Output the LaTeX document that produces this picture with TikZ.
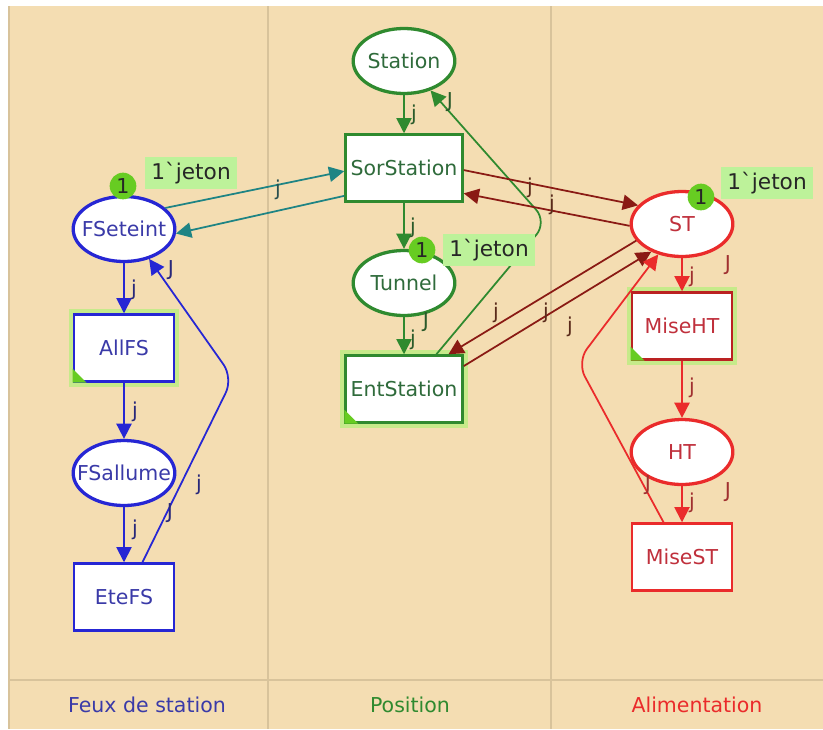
\documentclass[tikz,border=0pt]{standalone}
\usepackage{fontspec}
\setmainfont{DejaVu Sans}
\usetikzlibrary{positioning,arrows.meta,shapes.geometric,calc}
\definecolor{bgbeige}{HTML}{F4DDB2}
\definecolor{sepline}{HTML}{D8C39B}
\definecolor{fsblue}{HTML}{2626D4}
\definecolor{fstext}{HTML}{3A3AA8}
\definecolor{fsinsc}{HTML}{28287A}
\definecolor{posgreen}{HTML}{2F8A2F}
\definecolor{postext}{HTML}{2F6B3B}
\definecolor{posinsc}{HTML}{2A5A2A}
\definecolor{alimred}{HTML}{EA2B2B}
\definecolor{alimtext}{HTML}{C0303C}
\definecolor{aliminsc}{HTML}{A03030}
\definecolor{arcteal}{HTML}{1E8484}
\definecolor{arcbrown}{HTML}{8A1A14}
\definecolor{browninsc}{HTML}{5A2A1A}
\definecolor{tealinsc}{HTML}{2A5050}
\definecolor{tokgreen}{HTML}{67CC22}
\definecolor{markfill}{HTML}{BDF29A}
\definecolor{glow}{HTML}{C6EA8A}
\newcommand\nodefont{\fontsize{17.5}{20}\selectfont}
\newcommand\markfont{\fontsize{18.5}{20}\selectfont}
\tikzset{
  place/.style   = {ellipse, draw, line width=2.8pt, fill=white, minimum width=3.05cm,
                    minimum height=1.95cm, inner sep=0pt, font=\nodefont,
                    execute at begin node={\hbox to 0pt\bgroup\hss},
                    execute at end node={\hss\egroup}},
  trans/.style   = {rectangle, draw, line width=2.4pt, fill=white, minimum width=3.0cm,
                    minimum height=2.0cm, inner sep=0pt, font=\nodefont},
  wide/.style    = {minimum width=3.5cm},
  enabled/.style = {preaction={draw=glow, line width=9pt}},
  token/.style   = {circle, fill=tokgreen, minimum size=0.8cm, inner sep=0pt,
                    font=\nodefont, text=black!85},
  marking/.style = {rectangle, fill=markfill, minimum width=2.75cm, minimum height=0.95cm,
                    inner sep=0pt, font=\markfont, text=black!85},
  arc/.style     = {line width=1.5pt, -{Triangle[length=13pt, width=13pt]}},
  insc/.style    = {font=\nodefont, inner sep=0pt},
  corner/.style  = {fill=tokgreen},
}
\begin{document}
\begin{tikzpicture}[x=0.03cm, y=-0.03cm]
  \useasboundingbox (0,0) rectangle (823,729);
  \fill[white] (0,0) rectangle (823,729);
  \fill[bgbeige] (8,6) rectangle (823,729);
  \draw[sepline, line width=1.2pt] (9,6) -- (9,729);
  \draw[sepline, line width=2.5pt] (268,6) -- (268,729);
  \draw[sepline, line width=2.5pt] (551,6) -- (551,729);
  \draw[sepline, line width=2.5pt] (8,680) -- (823,680);

  % Feux de station
  \node[place, draw=fsblue, text=fstext] (FSeteint) at (124,229) {FSeteint};
  \node[trans, enabled, draw=fsblue, text=fstext] (AllFS) at (124,348) {AllFS};
  \node[place, draw=fsblue, text=fstext] (FSallume) at (124,473) {FSallume};
  \node[trans, draw=fsblue, text=fstext] (EteFS) at (124,597) {EteFS};

  % Position
  \node[place, draw=posgreen, text=postext] (Station) at (404,61) {Station};
  \node[trans, wide, draw=posgreen, text=postext] (SorStation) at (404,168) {SorStation};
  \node[place, draw=posgreen, text=postext] (Tunnel) at (404,283) {Tunnel};
  \node[trans, wide, enabled, draw=posgreen, text=postext] (EntStation) at (404,389) {EntStation};

  % Alimentation
  \node[place, draw=alimred, text=alimtext] (ST) at (682,224) {ST};
  \node[trans, enabled, draw=alimred!80!black, text=alimtext] (MiseHT) at (682,326) {MiseHT};
  \node[place, draw=alimred, text=alimtext] (HT) at (682,452) {HT};
  \node[trans, draw=alimred, text=alimtext] (MiseST) at (682,557) {MiseST};

  \fill[corner] (AllFS.south west) -- ++(14,0) -- ++(-14,-14) -- cycle;
  \fill[corner] (EntStation.south west) -- ++(14,0) -- ++(-14,-14) -- cycle;
  \fill[corner] (MiseHT.south west) -- ++(14,0) -- ++(-14,-14) -- cycle;

  \coordinate (feuxBend) at (233,378);
  \coordinate (posBend) at (547,222);
  \coordinate (alimBend) at (577,362);

  \draw[arc, fsblue] (FSeteint) -- (AllFS);
  \draw[arc, fsblue] (AllFS) -- (FSallume);
  \draw[arc, fsblue] (FSallume) -- (EteFS);
  \draw[arc, fsblue, rounded corners=14pt] (EteFS.62) -- (feuxBend) -- (FSeteint.-50);

  \draw[arc, arcteal] (FSeteint.27) -- (SorStation.183);
  \draw[arc, arcteal] (SorStation.205) -- (FSeteint.-5);

  \draw[arc, posgreen] (Station) -- (SorStation);
  \draw[arc, posgreen] (SorStation) -- (Tunnel);
  \draw[arc, posgreen] (Tunnel) -- (EntStation);
  \draw[arc, posgreen, rounded corners=14pt] (EntStation.47) -- (posBend) -- (Station.-48);

  \draw[arc, arcbrown] (SorStation.-2) -- (ST.157);
  \draw[arc, arcbrown] (ST.182) -- (SorStation.-23);
  \draw[arc, arcbrown] (ST.200) -- (EntStation.38);
  \draw[arc, arcbrown] (EntStation.21) -- (ST.222);

  \draw[arc, alimred] (ST) -- (MiseHT);
  \draw[arc, alimred] (MiseHT) -- (HT);
  \draw[arc, alimred] (HT) -- (MiseST);
  \draw[arc, alimred, rounded corners=14pt] (MiseST.118) -- (alimBend) -- (ST.232);

  % arc inscriptions
  \node[insc, text=fsinsc] (jFS1) at (134,290) {j};
  \node[insc, text=fsinsc] (jFS2) at (171,270) {J};
  \node[insc, text=fsinsc] (jFS3) at (135,412) {j};
  \node[insc, text=fsinsc] (jFS4) at (199,485) {j};
  \node[insc, text=fsinsc] (jFS5) at (170,513) {J};
  \node[insc, text=fsinsc] (jFS6) at (135,530) {j};
  \node[insc, text=tealinsc] (jTeal) at (278,190) {j};
  \node[insc, text=posinsc] (jPos1) at (414,115) {j};
  \node[insc, text=posinsc] (jPos2) at (450,102) {J};
  \node[insc, text=posinsc] (jPos3) at (413,228) {j};
  \node[insc, text=posinsc] (jPos4) at (426,322) {J};
  \node[insc, text=posinsc] (jPos5) at (413,340) {j};
  \node[insc, text=browninsc] (jBr1) at (530,188) {j};
  \node[insc, text=browninsc] (jBr2) at (552,205) {j};
  \node[insc, text=browninsc] (jBr3) at (496,313) {j};
  \node[insc, text=browninsc] (jBr4) at (546,313) {j};
  \node[insc, text=browninsc] (jBr5) at (570,327) {j};
  \node[insc, text=aliminsc] (jAl1) at (692,277) {j};
  \node[insc, text=aliminsc] (jAl2) at (728,265) {J};
  \node[insc, text=aliminsc] (jAl3) at (692,388) {j};
  \node[insc, text=aliminsc] (jAl4) at (692,503) {j};
  \node[insc, text=aliminsc] (jAl5) at (728,492) {J};
  \node[insc, text=aliminsc] (jAl6) at (648,485) {J};

  % initial markings
  \node[marking] (markFS) at (191,173) {1\textasciigrave jeton};
  \node[marking] (markTun) at (489,250) {1\textasciigrave jeton};
  \node[marking] (markST) at (767,183) {1\textasciigrave jeton};
  \node[token] (tokFS) at (123,186) {1};
  \node[token] (tokTun) at (422,250) {1};
  \node[token] (tokST) at (701,197) {1};

  % page names
  \node[font=\nodefont, text=fstext] (pgFeux) at (147,705) {Feux de station};
  \node[font=\nodefont, text=posgreen] (pgPos) at (410,705) {Position};
  \node[font=\nodefont, text=alimred] (pgAlim) at (697,705) {Alimentation};
\end{tikzpicture}
\end{document}
